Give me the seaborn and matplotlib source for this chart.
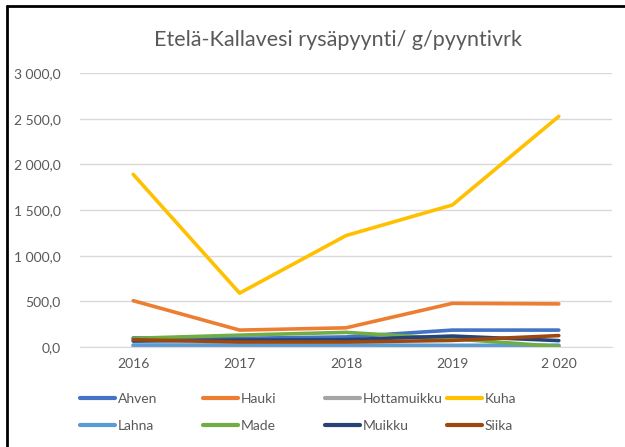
import matplotlib
matplotlib.use("Agg")
import matplotlib.pyplot as plt
import seaborn as sns
import pandas as pd
from matplotlib.lines import Line2D
from matplotlib.ticker import FuncFormatter

years = ["2016", "2017", "2018", "2019", "2 020"]
species = ["Ahven", "Hauki", "Hottamuikku", "Kuha", "Lahna", "Made", "Muikku", "Siika"]
ahven = [100, 95, 110, 185, 185]
hauki = [507, 185, 210, 478, 472]
hottamuikku = [8, 8, 8, 8, 8]
kuha = [1890, 590, 1220, 1555, 2525]
lahna = [22, 22, 22, 18, 20]
made = [95, 130, 160, 90, 5]
muikku = [65, 75, 80, 120, 70]
siika = [80, 55, 55, 72, 125]

colors = ["#4472C4", "#ED7D31", "#A5A5A5", "#FFC000",
          "#5B9BD5", "#70AD47", "#264478", "#9E480E"]

series = [ahven, hauki, hottamuikku, kuha, lahna, made, muikku, siika]
rows = []
for name, vals in zip(species, series):
    for y, v in zip(years, vals):
        rows.append({"Vuosi": y, "Laji": name, "Arvo": v})
df = pd.DataFrame(rows)

sns.set_style("white")
plt.rcParams["font.family"] = ["Lato", "DejaVu Sans"]

fig = plt.figure(figsize=(6.25, 4.47), dpi=100)
ax = fig.add_axes([80 / 625, 1 - 347 / 447, (612 - 80) / 625, (347 - 73) / 447])

sns.lineplot(data=df, x="Vuosi", y="Arvo", hue="Laji", hue_order=species,
             palette=colors, linewidth=2.6, ax=ax, sort=False, legend=False)

ax.set_xlim(-0.5, 4.5)
ax.set_ylim(0, 3000)
ax.set_yticks([0, 500, 1000, 1500, 2000, 2500, 3000])
ax.yaxis.set_major_formatter(FuncFormatter(
    lambda v, p: f"{v:,.1f}".replace(",", " ").replace(".", ",")))
ax.set_xticks(range(len(years)))
ax.set_xticklabels(years)
ax.grid(axis="y", color="#D9D9D9", linewidth=1)
ax.set_axisbelow(True)
for s in ["top", "right", "left"]:
    ax.spines[s].set_visible(False)
ax.spines["bottom"].set_color("#D9D9D9")
ax.tick_params(axis="both", colors="#595959", labelsize=10, length=0, pad=8)
ax.tick_params(axis="y", pad=14)
ax.set_xlabel("")
ax.set_ylabel("")

fig.text(338 / 625, 1 - 40 / 447, "Etelä-Kallavesi rysäpyynti/ g/pyyntivrk",
         ha="center", va="center", fontsize=15.5, color="#595959")

# legend: 4 columns (each a small legend) at fixed x positions, two rows
col_x = [80, 203, 325, 447]
for c in range(4):
    idx = [c, c + 4]
    handles = [Line2D([0], [0], color=colors[i], linewidth=3) for i in idx]
    labels = [species[i] for i in idx]
    fig.legend(handles, labels, ncol=1, loc="center left",
               bbox_to_anchor=(col_x[c] / 625, 1 - 412.5 / 447), frameon=False,
               fontsize=10, labelcolor="#595959", handlelength=2.5,
               handletextpad=0.2, labelspacing=1.1, borderpad=0,
               borderaxespad=0)

# screenshot frame
fig.add_artist(Line2D([7 / 625, 7 / 625], [0, 1 - 6 / 447], color="black",
                      linewidth=2, transform=fig.transFigure))
fig.add_artist(Line2D([7 / 625, 1], [1 - 6 / 447, 1 - 6 / 447], color="black",
                      linewidth=2, transform=fig.transFigure))

fig.savefig("out.png", dpi=100)
